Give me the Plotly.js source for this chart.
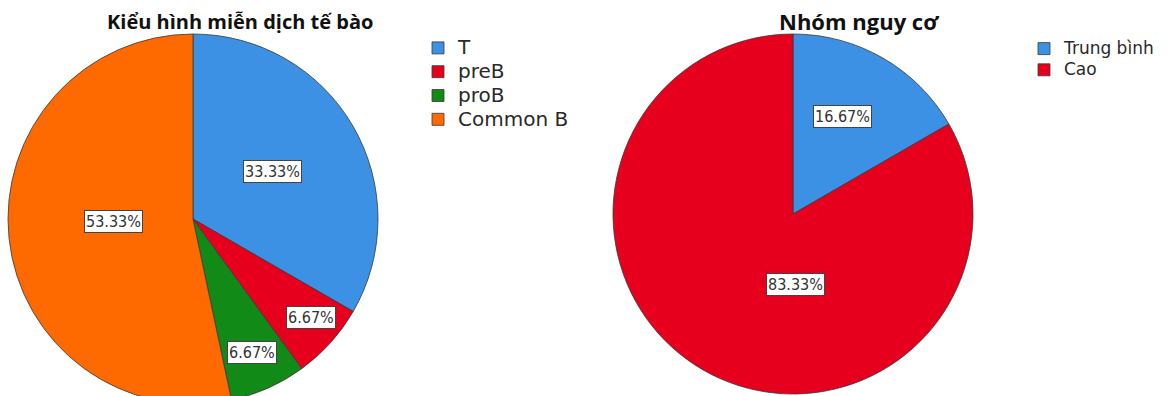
<!DOCTYPE html>
<html>
<head>
<meta charset="utf-8">
<script src="https://cdn.plot.ly/plotly-3.0.1.min.js"></script>
<style>
  html, body { margin: 0; padding: 0; background: #fff; overflow: hidden; }
  #chart { width: 1175px; height: 420px; }
</style>
</head>
<body>
<div id="chart"></div>
<script>
// ---- data ----
var immunoTitle = "Kiểu hình miễn dịch tế bào";
var immunoLabels = ["T", "preB", "proB", "Common B"];
var immunoCounts = [5, 1, 1, 8];

var riskTitle = "Nhóm nguy cơ";
var riskLabels = ["Trung bình", "Cao"];
var riskCounts = [1, 5];

// ---- styles / placement ----
var immunoColors = ["#3D91E5", "#E6001E", "#118A17", "#FF6A00"];
var riskColors = ["#3D91E5", "#E6001E"];
var W = 1175, H = 420;
var domLeft = { x: [8 / W, 378 / W], y: [1 - 404 / H, 1 - 34 / H] };
var domRight = { x: [613 / W, 973 / W], y: [1 - 394 / H, 1 - 34 / H] };
// per-slice label placement: [radius fraction, angular nudge in degrees]
var immunoLabelPlace = [[0.5, -1], [0.83, -2], [0.79, 0], [0.43, 4]];
var riskLabelPlace = [[0.61, -3], [0.39, -32]];
var labelFont = { family: "Liberation Sans Narrow, DejaVu Sans Condensed, Arial Narrow, sans-serif", size: 16, color: "#333" };
var legendFamily = "DejaVu Sans, Open Sans, sans-serif";

function pieTrace(labels, values, colors, dom, legendName, legendPx) {
  return {
    type: "pie",
    labels: labels.map(function (l) { return '<span style="font-size:' + legendPx + 'px">' + l + '</span>'; }),
    values: values,
    sort: false,
    direction: "clockwise",
    rotation: 0,
    domain: dom,
    marker: { colors: colors, line: { color: "#3a3a3a", width: 0.8 } },
    textinfo: "none",
    hoverinfo: "percent",
    legend: legendName
  };
}

function pctLabels(values, dom, place) {
  var total = values.reduce(function (a, b) { return a + b; }, 0);
  var x0 = dom.x[0] * W, x1 = dom.x[1] * W;
  var yTop = (1 - dom.y[1]) * H, yBot = (1 - dom.y[0]) * H;
  var cx = (x0 + x1) / 2, cy = (yTop + yBot) / 2;
  var r = Math.min(x1 - x0, yBot - yTop) / 2;
  var cum = 0, out = [];
  values.forEach(function (v, i) {
    var frac = v / total;
    var mid = (cum + frac / 2) * 2 * Math.PI + place[i][1] * Math.PI / 180;
    cum += frac;
    var rho = place[i][0];
    var px = cx + rho * r * Math.sin(mid);
    var py = cy - rho * r * Math.cos(mid);
    out.push({
      xref: "paper", yref: "paper",
      x: px / W, y: 1 - py / H,
      xanchor: "center", yanchor: "middle",
      text: (frac * 100).toFixed(2) + "%",
      showarrow: false,
      font: labelFont,
      bgcolor: "#ffffff",
      bordercolor: "#444",
      borderwidth: 1,
      borderpad: 1
    });
  });
  return out;
}

var data = [
  pieTrace(immunoLabels, immunoCounts, immunoColors, domLeft, "legend", 20),
  pieTrace(riskLabels, riskCounts, riskColors, domRight, "legend2", 17)
];

var titleFamily = "Open Sans, Noto Sans, sans-serif";

var annotations = [
  { xref: "paper", yref: "paper", x: 240 / W, y: 1 - 21 / H, xanchor: "center", yanchor: "middle",
    text: "<b>" + immunoTitle + "</b>", showarrow: false, font: { family: titleFamily, size: 20, color: "#111" } },
  { xref: "paper", yref: "paper", x: 777 / W, y: 1 - 21 / H, xanchor: "left", yanchor: "middle",
    text: "<b>" + riskTitle + "</b>", showarrow: false, font: { family: titleFamily, size: 22, color: "#111" } }
].concat(pctLabels(immunoCounts, domLeft, immunoLabelPlace), pctLabels(riskCounts, domRight, riskLabelPlace));

var layout = {
  width: W, height: H,
  margin: { l: 0, r: 0, t: 0, b: 0 },
  paper_bgcolor: "#fff",
  plot_bgcolor: "#fff",
  showlegend: true,
  legend: {
    x: 418 / W, y: 1 - 31 / H, xanchor: "left", yanchor: "top",
    font: { family: legendFamily, size: 16, color: "#2a2a2a" },
    itemwidth: 30, tracegroupgap: 0, bgcolor: "rgba(0,0,0,0)"
  },
  legend2: {
    x: 1024 / W, y: 1 - 33 / H, xanchor: "left", yanchor: "top",
    font: { family: legendFamily, size: 14, color: "#2a2a2a" },
    itemwidth: 30, tracegroupgap: 0, bgcolor: "rgba(0,0,0,0)"
  },
  annotations: annotations
};

Plotly.newPlot("chart", data, layout, { displayModeBar: false, staticPlot: true });
</script>
</body>
</html>
